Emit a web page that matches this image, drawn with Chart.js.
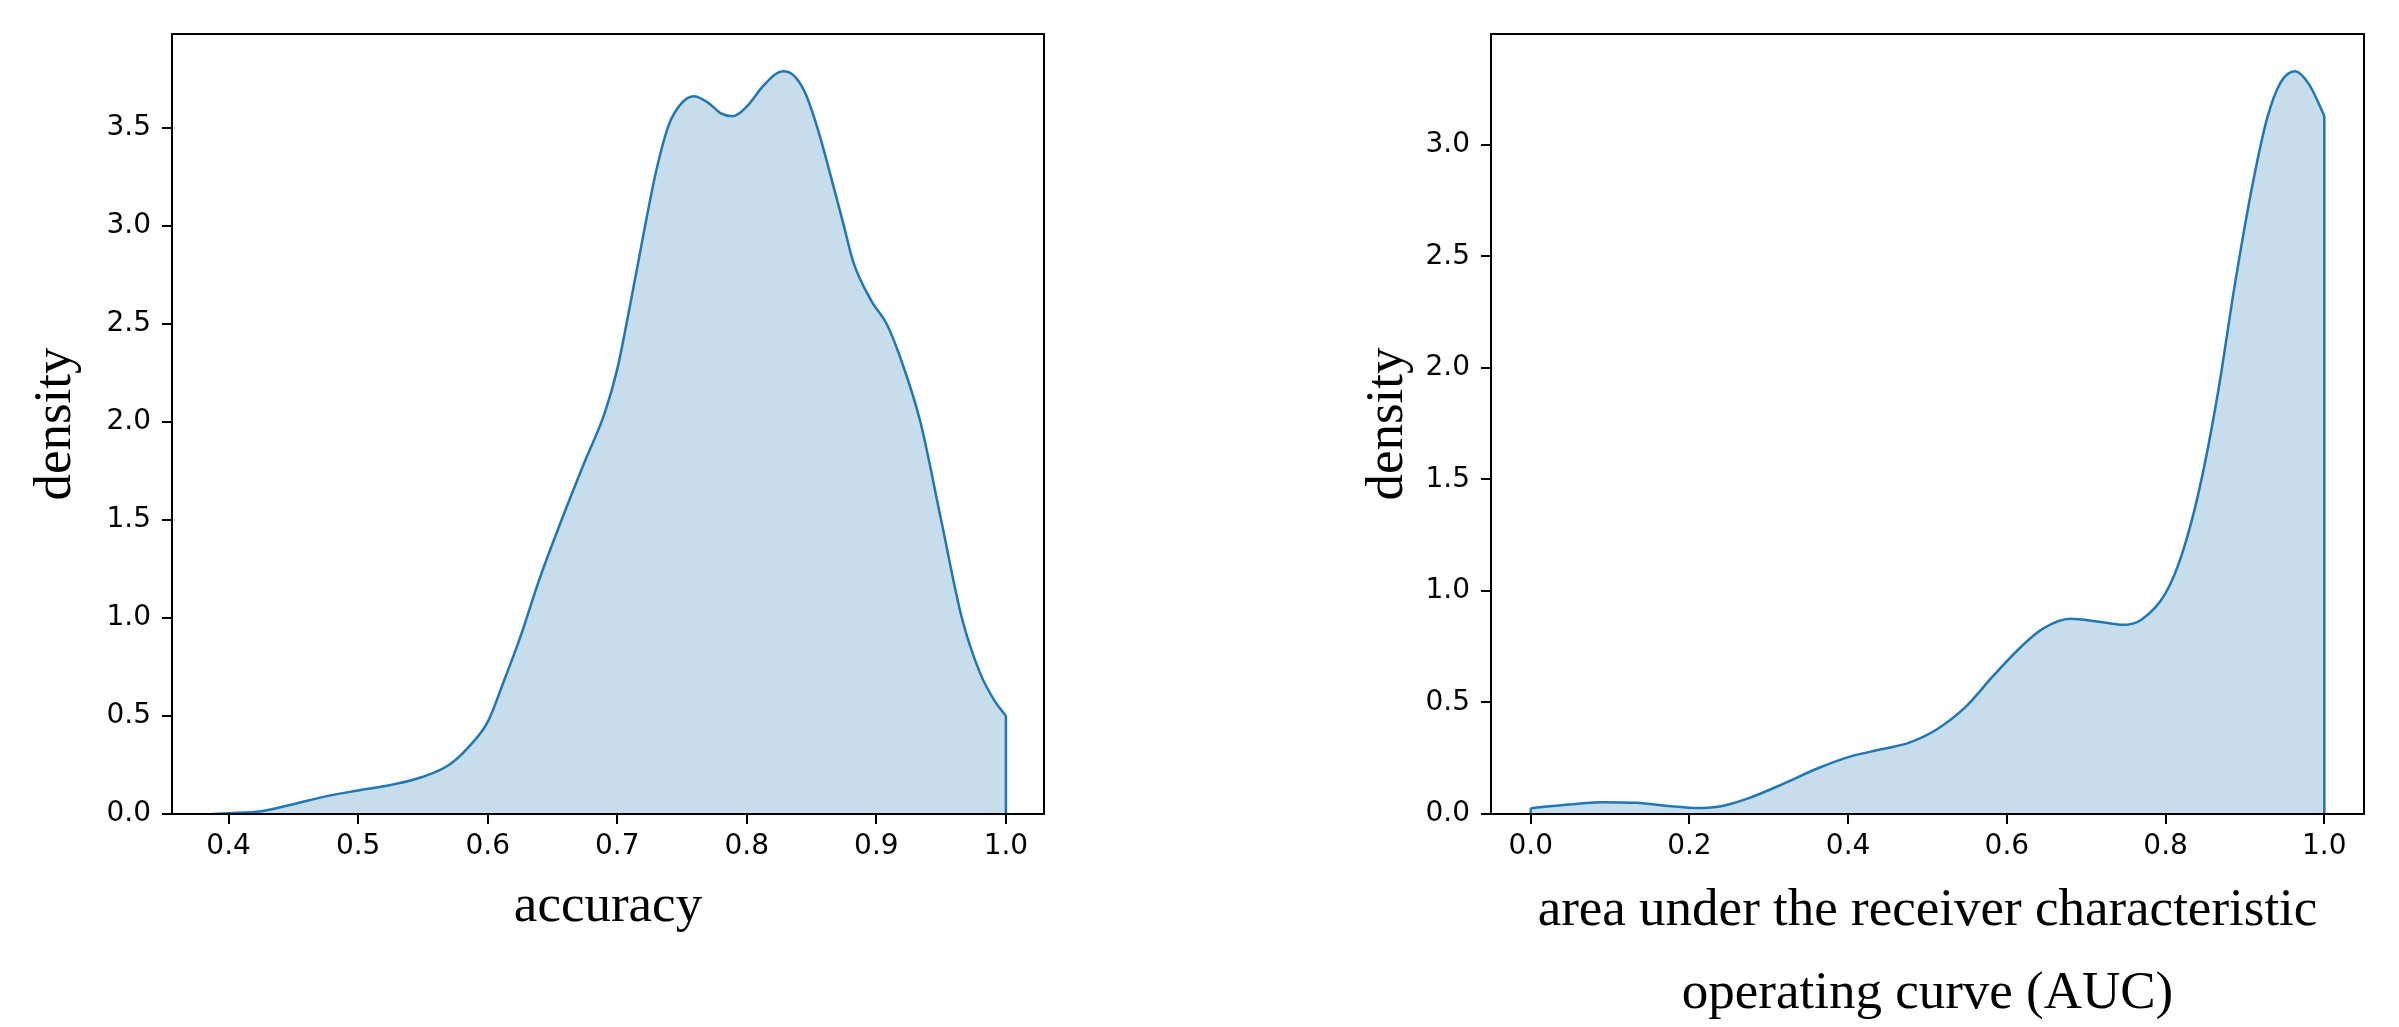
<!DOCTYPE html>
<html>
<head>
<meta charset="utf-8">
<script src="https://cdn.jsdelivr.net/npm/chart.js@4/dist/chart.umd.min.js"></script>
<style>
  html, body { margin: 0; padding: 0; background: #fff; }
  #wrap { position: relative; width: 2399px; height: 1027px; overflow: hidden; }
  canvas { position: absolute; top: 0; }
  #accChart { left: 0; }
  #aucChart { left: 1200px; }
</style>
</head>
<body>
<div id="wrap">
  <canvas id="accChart" width="1200" height="1027"></canvas>
  <canvas id="aucChart" width="1199" height="1027"></canvas>
</div>
<script>
// accuracy density (left panel)
const accX = [0.388, 0.400, 0.425, 0.450, 0.475, 0.500, 0.525, 0.550, 0.570, 0.585,
  0.600, 0.612, 0.625, 0.640, 0.657, 0.675, 0.690, 0.700, 0.710, 0.720,
  0.730, 0.740, 0.750, 0.759, 0.770, 0.780, 0.789, 0.800, 0.812, 0.822,
  0.828, 0.836, 0.845, 0.855, 0.869, 0.875, 0.882, 0.896, 0.908, 0.920,
  0.934, 0.950, 0.966, 0.980, 0.991, 1.000];
const accDensity = [0.000, 0.004, 0.014, 0.050, 0.090, 0.120, 0.148, 0.190, 0.250, 0.340,
  0.470, 0.670, 0.900, 1.200, 1.500, 1.800, 2.040, 2.270, 2.600, 2.950,
  3.280, 3.520, 3.630, 3.663, 3.630, 3.575, 3.560, 3.610, 3.710, 3.775,
  3.790, 3.770, 3.680, 3.490, 3.150, 3.000, 2.820, 2.620, 2.500, 2.300,
  2.000, 1.500, 1.000, 0.720, 0.580, 0.500];
const accXTicks = [0.4, 0.5, 0.6, 0.7, 0.8, 0.9, 1.0];
const accYTicks = [0.0, 0.5, 1.0, 1.5, 2.0, 2.5, 3.0, 3.5];

// AUC density (right panel)
const aucX = [0.000, 0.044, 0.088, 0.133, 0.177, 0.210, 0.240, 0.274, 0.318, 0.362,
  0.400, 0.442, 0.477, 0.512, 0.548, 0.583, 0.618, 0.645, 0.680, 0.716,
  0.746, 0.769, 0.800, 0.822, 0.844, 0.866, 0.888, 0.910, 0.928, 0.945,
  0.963, 0.981, 1.000];
const aucDensity = [0.026, 0.041, 0.053, 0.050, 0.035, 0.027, 0.035, 0.070, 0.135, 0.205,
  0.255, 0.290, 0.320, 0.380, 0.480, 0.620, 0.750, 0.830, 0.875, 0.862,
  0.848, 0.870, 0.990, 1.180, 1.480, 1.890, 2.390, 2.830, 3.120, 3.280,
  3.330, 3.270, 3.130];
const aucXTicks = [0.0, 0.2, 0.4, 0.6, 0.8, 1.0];
const aucYTicks = [0.0, 0.5, 1.0, 1.5, 2.0, 2.5, 3.0];

const BLUE = '#1f77b4';
const FILL = 'rgba(31,119,180,0.25)';

// matplotlib style box round the plot area
const framePlugin = {
  id: 'frame',
  afterDraw(chart) {
    const a = chart.chartArea;
    const ctx = chart.ctx;
    ctx.save();
    ctx.strokeStyle = '#000';
    ctx.lineWidth = 2;
    ctx.strokeRect(a.left, a.top, a.right - a.left, a.bottom - a.top);
    ctx.restore();
  }
};

function points(xs, ys) {
  return xs.map((x, i) => ({ x: x, y: ys[i] }));
}

// closing edge of the filled polygon (vertical line down to zero)
function edge(x, y) {
  return {
    data: [{ x: x, y: y }, { x: x, y: 0 }],
    borderColor: BLUE, borderWidth: 2.5, pointRadius: 0, fill: false, tension: 0
  };
}

function axis(cfg) {
  return {
    type: 'linear',
    min: cfg.min,
    max: cfg.max,
    afterFit: cfg.fit,
    afterBuildTicks: s => { s.ticks = cfg.ticks.map(v => ({ value: v })); },
    grid: { drawOnChartArea: false, color: '#000', lineWidth: 2, tickLength: 10 },
    border: { color: '#000', width: 2 },
    ticks: {
      color: '#000', padding: cfg.tickPad, autoSkip: false, maxRotation: 0,
      font: { family: 'DejaVu Sans', size: 28 },
      callback: v => v.toFixed(1)
    },
    title: {
      display: true, text: cfg.title, color: '#000',
      font: { family: 'Liberation Serif', size: 53, lineHeight: cfg.lineHeight || 1.2 },
      padding: cfg.titlePad
    }
  };
}

function kdeChart(id, p) {
  return new Chart(document.getElementById(id), {
    type: 'line',
    data: {
      datasets: [{
        data: points(p.xs, p.ys),
        borderColor: BLUE, borderWidth: 2.5, backgroundColor: FILL,
        fill: 'origin', pointRadius: 0, cubicInterpolationMode: 'monotone'
      }].concat(p.edges)
    },
    options: {
      responsive: false,
      animation: false,
      layout: { padding: p.padding },
      plugins: { legend: { display: false }, tooltip: { enabled: false } },
      scales: {
        x: axis({
          min: p.xMin, max: p.xMax, ticks: p.xTicks, title: p.xTitle, tickPad: 6,
          lineHeight: 1.57, titlePad: { top: 0, bottom: p.xTitlePad },
          fit: s => { s.height = 213; }
        }),
        y: axis({
          min: 0, max: p.yMax, ticks: p.yTicks, title: 'density', tickPad: 11,
          titlePad: { top: 24, bottom: 0 },
          fit: s => { s.width = p.yWidth; }
        })
      }
    },
    plugins: [framePlugin]
  });
}

kdeChart('accChart', {
  xs: accX, ys: accDensity, xTicks: accXTicks, yTicks: accYTicks,
  xMin: 0.3563, xMax: 1.0294, yMax: 3.98,
  edges: [edge(1.0, 0.5)],
  xTitle: 'accuracy', xTitlePad: 78,
  padding: { left: 0, top: 34, right: 156, bottom: 0 }, yWidth: 172
});

kdeChart('aucChart', {
  xs: aucX, ys: aucDensity, xTicks: aucXTicks, yTicks: aucYTicks,
  xMin: -0.05, xMax: 1.05, yMax: 3.497,
  edges: [edge(0.0, 0.026), edge(1.0, 3.13)],
  xTitle: ['area under the receiver characteristic', 'operating curve (AUC)'], xTitlePad: -9,
  padding: { left: 132, top: 34, right: 35, bottom: 0 }, yWidth: 159
});
</script>
</body>
</html>
